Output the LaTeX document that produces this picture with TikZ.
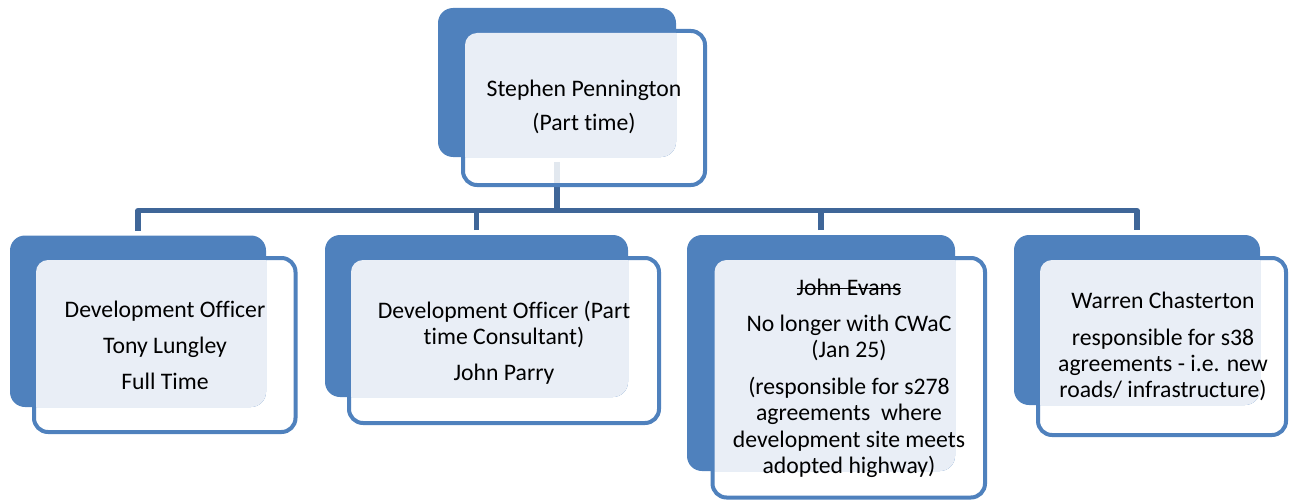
\documentclass[tikz,border=0pt]{standalone}
\usepackage{fontspec}
\setmainfont{Carlito}[Ligatures=NoCommon]
\usetikzlibrary{fit,backgrounds}
\definecolor{acc}{RGB}{79,129,189}
\definecolor{connc}{RGB}{63,102,152}
\definecolor{lite}{RGB}{233,238,246}
\newcommand\fstrut{\rule{0pt}{20pt}}
\newcommand\mystrike[1]{\setbox0\hbox{#1}\rlap{\rule[0.26em]{\wd0}{0.055em}}\box0}
\tikzset{
  backbox/.style={rectangle, inner sep=0pt, outer sep=0pt, fill=acc, rounded corners=15pt},
  frontbox/.style={rectangle, inner sep=0pt, outer sep=0pt, draw=acc, line width=4pt, fill=white, fill opacity=0.85, rounded corners=14pt},
  txt/.style={inner sep=0pt, outer sep=0pt, anchor=north, align=center, font=\fontsize{23.7}{26.2}\selectfont, text=black},
  connector/.style={draw=connc, line width=5.3pt, line join=round}
}
\begin{document}
\begin{tikzpicture}[x=1pt,y=-1pt]
\useasboundingbox (0,0) rectangle (1297,500);
% front boxes
\node[frontbox, fit={(463,31) (705,185)}] (topF) {};
\node[frontbox, fit={(34,258) (295.5,432)}] (b1F) {};
\node[frontbox, fit={(349,258) (659,423)}] (b2F) {};
\node[frontbox, fit={(712.5,258) (985,497.5)}] (b3F) {};
\node[frontbox, fit={(1038,258) (1286,435)}] (b4F) {};
% back boxes
\node[backbox, fit={(438,8) (676,157)}] (topB) {};
\node[backbox, fit={(10,235.5) (266,407)}] (b1B) {};
\node[backbox, fit={(325,235) (628,397)}] (b2B) {};
\node[backbox, fit={(687,235) (955,471)}] (b3B) {};
\node[backbox, fit={(1014,235) (1260,405)}] (b4B) {};
% overlap of front box interior over back box
\foreach \nm in {top,b1,b2,b3,b4}{
  \begin{scope}
    \clip[rounded corners=15pt] (\nm B.north west) rectangle (\nm B.south east);
    \fill[lite, rounded corners=12pt] ([shift={(2pt,-2pt)}]\nm F.north west) rectangle ([shift={(-2pt,2pt)}]\nm F.south east);
  \end{scope}
}
% connectors
\begin{scope}[on background layer]
  \draw[connector] ([yshift=5pt]b1B.north) -- ([yshift=25pt]b1B.north) -| ([yshift=5pt]b4B.north);
  \draw[connector] ([yshift=-5pt]topB.south) -- ([yshift=-53pt]topB.south);
  \draw[connector] ([yshift=5pt]b2B.north) -- ([yshift=25pt]b2B.north);
  \draw[connector] ([yshift=5pt]b3B.north) -- ([yshift=25pt]b3B.north);
\end{scope}
% texts
\node[txt] (topT) at (584,77) {\fstrut Stephen Pennington\\[6.8pt](Part time)};
\node[txt] (b1T) at (165,297) {\fstrut Development Officer\\[10pt]Tony Lungley\\[10pt]Full Time};
\node[txt] (b2T) at (504,298) {\fstrut Development Officer (Part\\time Consultant)\\[10.5pt]John Parry};
\node[txt] (b3T) at (849,275) {\fstrut\mystrike{John Evans}\\[10.5pt]No longer with CWaC\\(Jan 25)\\[10.5pt](responsible for s278\\agreements\ \ where\\development site meets\\adopted highway)};
\node[txt] (b4T) at (1163,288.3) {\fstrut Warren Chasterton\\[10.5pt]responsible for s38\\agreements - i.e. new\\roads/ infrastructure)};
\end{tikzpicture}
\end{document}
